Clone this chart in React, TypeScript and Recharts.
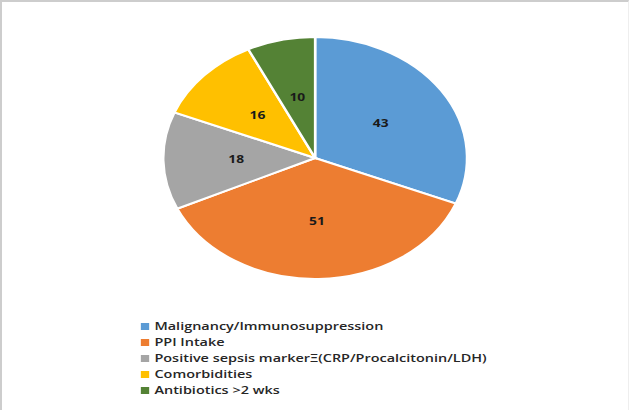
import React from 'react';
import { PieChart, Pie, Cell, Legend } from 'recharts';

const categories = [
  'Malignancy/Immunosuppression',
  'PPI Intake',
  'Positive sepsis markerΞ(CRP/Procalcitonin/LDH)',
  'Comorbidities',
  'Antibiotics >2 wks',
];
const counts = [43, 51, 18, 16, 10];
const colors = ['#5B9BD5', '#ED7D31', '#A5A5A5', '#FFC000', '#548235'];

const data = categories.map((name, i) => ({ name, value: counts[i] }));

// the source image is stretched sideways, so draw narrow and scale up
const FULL_W = 629;
const H = 410;
const STRETCH = 1.2555;
const W = Math.round(FULL_W / STRETCH);

const RADIAN = Math.PI / 180;

const renderLabel = (props: any) => {
  const { cx, cy, midAngle, outerRadius, value } = props;
  const r = outerRadius * 0.52;
  const x = cx + r * Math.cos(-midAngle * RADIAN);
  const y = cy + r * Math.sin(-midAngle * RADIAN);
  return (
    <text x={x} y={y} fill="#1a1a1a" textAnchor="middle" dominantBaseline="central"
      fontSize={11} fontWeight={700} fontFamily="'Open Sans', sans-serif">
      {value}
    </text>
  );
};

const App: React.FC = () => {
  return (
    <div style={{ position: 'absolute', left: 0, top: 0, width: FULL_W, height: H, overflow: 'hidden', background: '#fff' }}>
      <div style={{ width: W, height: H, transform: `scaleX(${STRETCH})`, transformOrigin: 'left top' }}>
        <PieChart width={W} height={H} margin={{ top: 0, right: 0, bottom: 0, left: 0 }}
          style={{ fontFamily: "'Open Sans', sans-serif" }}>
          <Pie
            data={data}
            dataKey="value"
            nameKey="name"
            cx={251}
            cy={158}
            outerRadius={121}
            startAngle={90}
            endAngle={-270}
            stroke="#fff"
            strokeWidth={2}
            label={renderLabel}
            labelLine={false}
            isAnimationActive={false}
          >
            {data.map((d, i) => (
              <Cell key={d.name} fill={colors[i]} />
            ))}
          </Pie>
          <Legend
            layout="vertical"
            iconType="square"
            iconSize={7}
            itemSorter={(item: any) => categories.indexOf(item.value)}
            wrapperStyle={{ left: 112, top: 318, width: 'auto', fontSize: 11.5, lineHeight: '16px', fontWeight: 600 }}
            formatter={(v: string) => <span style={{ color: '#262626' }}>{v}</span>}
          />
        </PieChart>
      </div>
      <div style={{ position: 'absolute', left: 0, top: 0, width: FULL_W, height: H, boxSizing: 'border-box',
        borderTop: '2px solid #cdcdcd', borderLeft: '2px solid #cdcdcd', borderRight: '1px solid #eeeeee', pointerEvents: 'none' }} />
    </div>
  );
};

export default App;
